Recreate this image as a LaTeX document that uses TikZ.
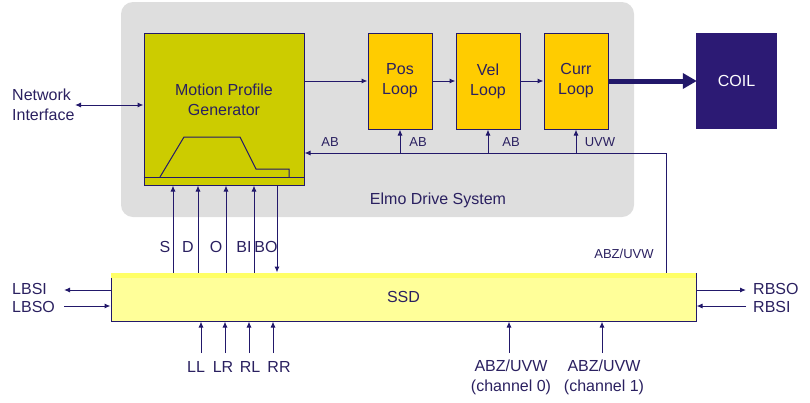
\documentclass[tikz,border=0pt]{standalone}
\usepackage{fontspec}
\setmainfont{Liberation Sans}
\usetikzlibrary{arrows.meta}
\definecolor{ln}{HTML}{22186A}
\definecolor{txt}{HTML}{2A2060}
\definecolor{grayb}{HTML}{DEDEDE}
\definecolor{mpgc}{HTML}{CCCC00}
\definecolor{loopc}{HTML}{FFCC00}
\definecolor{coilc}{HTML}{2C1A74}
\definecolor{ssdc}{HTML}{FFFF99}
\definecolor{ssdt}{HTML}{FFFF66}
\tikzset{
  big/.style={font=\fontsize{16}{20}\selectfont, text=txt},
  small/.style={font=\fontsize{13}{15}\selectfont, text=txt, inner sep=0pt},
  lbl/.style={font=\fontsize{16}{20}\selectfont, text=txt, inner sep=0pt, align=left},
  arr/.style={draw=ln, line width=1pt, -{Latex[length=6pt,width=5pt]}},
  darr/.style={draw=ln, line width=1pt, {Latex[length=6pt,width=5pt]}-{Latex[length=6pt,width=5pt]}},
  plain/.style={draw=ln, line width=1pt},
  loopbox/.style={draw=ln, line width=1pt, fill=loopc, minimum width=64pt, minimum height=96pt, inner sep=0pt, align=center, big},
}
\begin{document}
\begin{tikzpicture}[x=1pt,y=-1pt]
\useasboundingbox (0,0) rectangle (810,402);
% drive system background
\node[fill=grayb, rounded corners=12pt, minimum width=513pt, minimum height=215pt, inner sep=0pt] (drive) at (377.5,109.5) {};
\node[big, inner sep=0pt] (drivelbl) at (438,200) {Elmo Drive System};
% motion profile generator
\node[draw=ln, line width=1pt, fill=mpgc, minimum width=160pt, minimum height=152pt, inner sep=0pt] (mpg) at (224,109) {};
\node[big, align=center, inner sep=0pt] (mpglbl) at (224,100) {Motion Profile\\Generator};
\draw[plain] (mpg.west |- 0,177) -- (mpg.east |- 0,177);
\draw[draw=ln, line width=1pt] (160,177) -- (184,137) -- (240,137) -- (256,169) -- (289,169) -- (289,177);
% loops
\node[loopbox] (pos) at (400,81) {Pos\\Loop};
\node[loopbox] (vel) at (488,81) {Vel\\Loop};
\node[loopbox] (curr) at (576,81) {Curr\\Loop};
\node[fill=coilc, minimum width=81pt, minimum height=96pt, inner sep=0pt, font=\fontsize{16}{20}\selectfont, text=white] (coil) at (736.5,81) {COIL};
\draw[arr] (mpg.east |- pos.west) -- (pos.west);
\draw[arr] (pos.east) -- (vel.west);
\draw[arr] (vel.east) -- (curr.west);
\draw[draw=ln, line width=5pt, -{Triangle[length=14pt,width=15pt]}, shorten >=-1pt] (curr.east) -- (coil.west);
% network interface
\node[lbl, anchor=west] (net) at (12,105) {Network\\Interface};
\draw[darr] (75,105) -- (mpg.west |- 0,105);
% SSD
\node[draw=ln, line width=1pt, fill=ssdc, minimum width=585pt, minimum height=48pt, inner sep=0pt] (ssd) at (403.5,297) {};
\fill[ssdt] ([xshift=0.5pt,yshift=-0.5pt]ssd.north west) rectangle ([xshift=-0.5pt,yshift=-5pt]ssd.north east);
\node[big, inner sep=0pt] (ssdlbl) at (403.5,297) {SSD};
% feedback
\coordinate (fbc) at (666,153);
\draw[arr] (ssd.north -| fbc) -- (fbc) -- (mpg.east |- fbc);
\draw[arr] (pos.south |- fbc) -- (pos.south);
\draw[arr] (vel.south |- fbc) -- (vel.south);
\draw[arr] (curr.south |- fbc) -- (curr.south);
\node[small] (ab0) at (330,142) {AB};
\node[small] (ab1) at (418,142) {AB};
\node[small] (ab2) at (511,142) {AB};
\node[small] (uvw) at (600,142) {UVW};
\node[small] (abzfb) at (624,254) {ABZ/UVW};
% SSD to MPG
\draw[arr] (ssd.north -| 173,0) -- (mpg.south -| 173,0);
\draw[arr] (ssd.north -| 198,0) -- (mpg.south -| 198,0);
\draw[arr] (ssd.north -| 226,0) -- (mpg.south -| 226,0);
\draw[arr] (ssd.north -| 254,0) -- (mpg.south -| 254,0);
\draw[arr] (mpg.south -| 277,0) -- (ssd.north -| 277,0);
\node[lbl] (ls) at (165,247) {S};
\node[lbl] (ld) at (188,247) {D};
\node[lbl] (lo) at (216,247) {O};
\node[lbl] (lbi) at (244,247) {BI};
\node[lbl] (lbo) at (266,247) {BO};
% left side
\node[lbl, anchor=west] (lbsi) at (12,289) {LBSI};
\node[lbl, anchor=west] (lbso) at (12,307) {LBSO};
\draw[arr] (ssd.west |- 0,290) -- (64,290);
\draw[arr] (64,306) -- (ssd.west |- 0,306);
% right side
\node[lbl, anchor=west] (rbso) at (753,289) {RBSO};
\node[lbl, anchor=west] (rbsi) at (753,307) {RBSI};
\draw[arr] (ssd.east |- 0,290) -- (746,290);
\draw[arr] (746,306) -- (ssd.east |- 0,306);
% bottom inputs
\node[lbl] (ll) at (196,367) {LL};
\node[lbl] (lr) at (223,367) {LR};
\node[lbl] (rl) at (250,367) {RL};
\node[lbl] (rr) at (279,367) {RR};
\draw[arr] (201,353) -- (ssd.south -| 201,0);
\draw[arr] (225,353) -- (ssd.south -| 225,0);
\draw[arr] (249,353) -- (ssd.south -| 249,0);
\draw[arr] (273,353) -- (ssd.south -| 273,0);
\node[lbl, align=center] (ch0) at (511,377) {ABZ/UVW\\(channel 0)};
\node[lbl, align=center] (ch1) at (604,377) {ABZ/UVW\\(channel 1)};
\draw[arr] (509,353) -- (ssd.south -| 509,0);
\draw[arr] (602,353) -- (ssd.south -| 602,0);
\end{tikzpicture}
\end{document}
